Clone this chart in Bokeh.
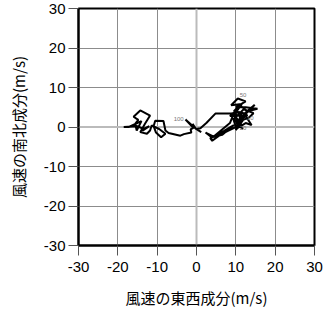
from bokeh.plotting import figure
from bokeh.models import FixedTicker, Span, ColumnDataSource, CustomJSTickFormatter
from bokeh.embed import file_html
from bokeh.resources import INLINE

# Hodograph path (u: east-west, v: north-south), m/s
u = [12.5, 11.0, 13.2, 14.5, 12.0, 10.0, 11.5, 10.5, 12.5, 14.0, 12.0, 9.5, 11.0, 13.0, 15.5,
     12.5, 10.0, 12.5, 10.5, 8.8, 11.5, 9.5, 11.0, 9.0, 11.5, 10.0, 12.0, 9.5, 10.5, 8.5,
     13.0, 11.0, 14.8, 12.0, 10.2, 11.8, 9.3, 10.0, 8.0, 6.0, 4.0, 3.5, 5.6, 7.0, 9.5,
     6.5, 4.5, 2.3, 4.0, 8.5, 9.5, 8.1, 4.8, 2.5, 1.0, -0.1, 1.2, -0.1, -1.0, -0.1, -2.8,
     -0.8, -1.5, -1.3, -3.2, -4.1, -7.1, -7.9, -8.4, -10.5, -10.9, -10.3, -9.0, -7.9, -9.5,
     -11.4, -11.8, -12.6, -14.3, -13.1, -11.8, -14.3, -16.0, -14.8, -15.6, -15.2, -14.0,
     -17.2, -18.5, -15.0, -13.5, -12.0, -13.8]
v = [3.0, 1.5, 2.3, 3.5, 4.5, 2.5, 0.5, -0.2, 1.0, 0.5, 3.5, 4.0, 5.5, 4.0, 4.6,
     5.0, 5.0, 6.5, 7.2, 5.5, 5.8, 3.0, 1.0, 3.5, 3.8, -0.8, 2.0, 1.5, 4.5, 2.8,
     3.0, 1.8, 5.6, 3.2, 0.8, -0.5, 2.2, 0.0, -1.0, -2.0, -3.5, -2.8, -1.8, -1.0, 0.5,
     -2.0, -2.5, -1.4, -2.7, 1.0, 3.5, 3.4, 3.4, 1.0, -0.3, -0.5, -1.3, -0.5, 0.8, -0.5, 1.9,
     -0.2, -0.6, -1.4, -1.8, -2.2, -1.5, -0.9, 1.5, 1.6, 0.2, -1.4, -2.6, -1.7, -0.5,
     0.4, -0.9, -1.7, -1.3, 0.8, 2.9, 4.2, 2.6, 1.8, 0.8, -0.9, 1.5,
     0.0, 0.0, 0.2, -0.5, 0.2, -1.0]

label_text = ["10", "20", "50", "100"]
label_u = [12.8, 11.0, 11.0, -5.8]
label_v = [2.3, -0.2, 8.0, 1.9]

p = figure(width=323, height=313, output_backend="svg", toolbar_location=None,
           x_range=(-30, 30), y_range=(-30, 30),
           min_border_left=78, min_border_right=9, min_border_top=8, min_border_bottom=68)

ticks = [-30, -20, -10, 0, 10, 20, 30]
for ax in (p.xaxis, p.yaxis):
    ax.ticker = FixedTicker(ticks=ticks)
    ax.formatter = CustomJSTickFormatter(code="return tick.toFixed(0);")
    ax.major_label_text_font = "Liberation Sans"
    ax.major_label_text_font_size = "15px"
    ax.major_label_text_color = "black"
    ax.axis_line_color = "black"
    ax.axis_line_width = 2
    ax.major_tick_line_color = "#555555"
    ax.major_tick_out = 10
    ax.major_tick_in = 0
    ax.minor_tick_line_color = None
    ax.axis_label_text_font = "Noto Sans CJK JP"
    ax.axis_label_text_font_size = "15px"
    ax.axis_label_text_font_style = "normal"
    ax.axis_label_text_color = "black"

p.xaxis.axis_label = "風速の東西成分(m/s)"
p.yaxis.axis_label = "風速の南北成分(m/s)"
p.xaxis.major_label_standoff = 6
p.yaxis.major_label_standoff = 3
p.xaxis.axis_label_standoff = 12
p.yaxis.axis_label_standoff = 12

p.xgrid.ticker = FixedTicker(ticks=[-20, -10, 10, 20])
p.ygrid.ticker = FixedTicker(ticks=[-20, -10, 10, 20])
p.grid.grid_line_color = "#8c8c8c"
p.grid.grid_line_width = 1
p.grid.grid_line_alpha = 1

p.add_layout(Span(location=0, dimension="width", line_color="#bbbbbb", line_width=2, level="underlay"))
p.add_layout(Span(location=0, dimension="height", line_color="#bbbbbb", line_width=2, level="underlay"))

p.outline_line_color = "black"
p.outline_line_width = 2
p.outline_line_alpha = 1

p.line(u, v, line_color="black", line_width=2)

src = ColumnDataSource(dict(x=label_u, y=label_v, t=label_text))
p.text(x="x", y="y", text="t", source=src, text_font_size="6px", text_color="#777777",
       text_align="left", text_baseline="middle")

open("out.html", "w").write(file_html(p, INLINE))
